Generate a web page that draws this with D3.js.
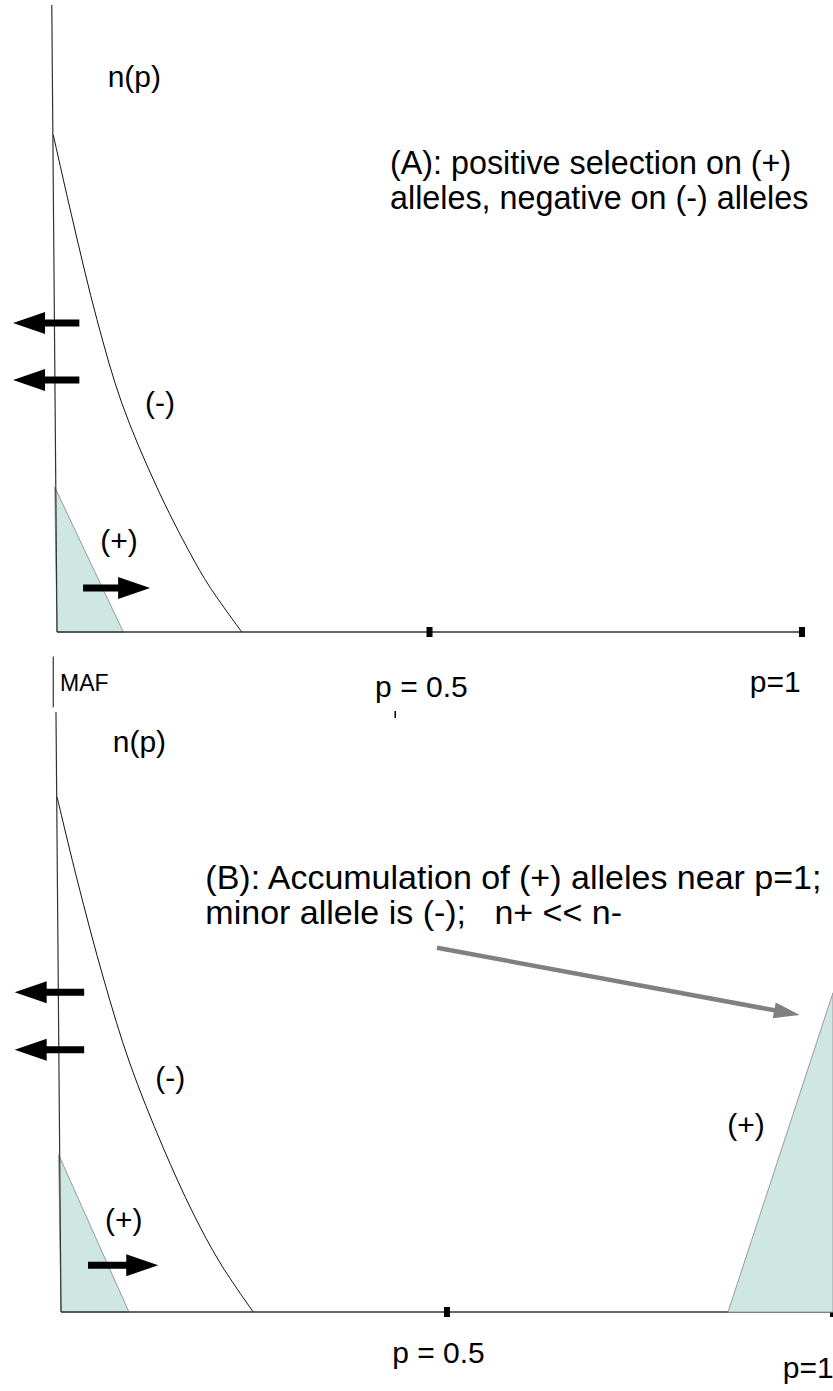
<!DOCTYPE html>
<html>
<head>
<meta charset="utf-8">
<script src="https://cdn.jsdelivr.net/npm/d3@7"></script>
<style>
  body { margin: 0; background: #fff; }
  text { font-family: "Liberation Sans", Arial, sans-serif; fill: #000; }
</style>
</head>
<body>
<svg id="chart"></svg>
<script>
// p = allele frequency, n = relative number of alleles n(p)
const negCurveA = [[-0.005, 0.793], [0.021, 0.657], [0.0537, 0.498], [0.087, 0.365],
  [0.134, 0.231], [0.1785, 0.126], [0.205, 0.072], [0.248, 0]];
const posAreaA = [[-0.003, 0.231], [0, 0], [0.089, 0]];
const negCurveB = [[-0.005, 0.858], [0.021, 0.72], [0.0557, 0.553], [0.089, 0.415],
  [0.132, 0.275], [0.171, 0.165], [0.206, 0.082], [0.249, 0]];
const posAreaB = [[-0.003, 0.262], [0, 0], [0.088, 0]];
const posAreaBHigh = [[0.864, 0], [1.0, 0.532], [1.0, 0]];
const tickValues = [0.5, 1];

// arrows: [fromP, fromN, toP, toN]
const arrowsA = [[0.030, 0.493, -0.059, 0.493], [0.030, 0.402, -0.059, 0.402], [0.035, 0.070, 0.125, 0.070]];
const arrowsB = [[0.030, 0.533, -0.060, 0.533], [0.030, 0.437, -0.060, 0.437], [0.035, 0.078, 0.126, 0.078]];
const pointerB = [0.487, 0.607, 0.957, 0.495];

const labelsA = [
  { text: "n(p)", p: 0.068, n: 0.869, size: 30 },
  { text: "(A): positive selection on (+)", p: 0.447, n: 0.730, size: 32.3 },
  { text: "alleles, negative on (-) alleles", p: 0.447, n: 0.674, size: 32.3 },
  { text: "(-)", p: 0.118, n: 0.349, size: 30 },
  { text: "(+)", p: 0.058, n: 0.129, size: 30 },
  { text: "p = 0.5", p: 0.427, n: -0.104, size: 30 },
  { text: "p=1", p: 0.930, n: -0.096, size: 30 },
  { text: "MAF", p: 0.004, n: -0.094, size: 23 }
];
const labelsB = [
  { text: "n(p)", p: 0.067, n: 0.933, size: 30 },
  { text: "(B): Accumulation of (+) alleles near p=1;", p: 0.187, n: 0.705, size: 34 },
  { text: "minor allele is (-);   n+ << n-", p: 0.187, n: 0.646, size: 34 },
  { text: "(-)", p: 0.122, n: 0.373, size: 30 },
  { text: "(+)", p: 0.863, n: 0.295, size: 30 },
  { text: "(+)", p: 0.057, n: 0.137, size: 30 },
  { text: "p = 0.5", p: 0.429, n: -0.085, size: 30 },
  { text: "p=1", p: 0.935, n: -0.110, size: 30 }
];

const W = 833, H = 1391;
const svg = d3.select("#chart").attr("width", W).attr("height", H);

const blockArrow = (x1, y1, x2, y2, shaft, headW, headL) => {
  const len = Math.hypot(x2 - x1, y2 - y1);
  const ux = (x2 - x1) / len, uy = (y2 - y1) / len;
  const nx = -uy, ny = ux;
  const bx = x2 - ux * headL, by = y2 - uy * headL;
  const pts = [
    [x1 + nx * shaft / 2, y1 + ny * shaft / 2],
    [bx + nx * shaft / 2, by + ny * shaft / 2],
    [bx + nx * headW / 2, by + ny * headW / 2],
    [x2, y2],
    [bx - nx * headW / 2, by - ny * headW / 2],
    [bx - nx * shaft / 2, by - ny * shaft / 2],
    [x1 - nx * shaft / 2, y1 - ny * shaft / 2]
  ];
  return "M" + pts.map(p => p.join(",")).join("L") + "Z";
};

const drawPanel = (cfg) => {
  const x = d3.scaleLinear().domain([0, 1]).range(cfg.xRange);
  const y = d3.scaleLinear().domain([0, 1]).range(cfg.yRange);
  const g = svg.append("g").attr("class", cfg.name);

  // shaded (+) areas
  cfg.areas.forEach(a => {
    g.append("path")
      .attr("d", d3.line().x(d => x(d[0])).y(d => y(d[1]))(a) + "Z")
      .attr("fill", "#cfe7e3")
      .attr("stroke", "#9a9a9a")
      .attr("stroke-width", 1);
  });

  // vertical axis (slightly leaning, as drawn)
  g.append("line")
    .attr("x1", x(cfg.axisTopP)).attr("y1", y(1))
    .attr("x2", x(0)).attr("y2", y(0))
    .attr("stroke", "#333").attr("stroke-width", 1.2);

  // horizontal axis
  g.append("line")
    .attr("x1", x(0)).attr("y1", y(0))
    .attr("x2", x(1)).attr("y2", y(0))
    .attr("stroke", "#333").attr("stroke-width", 1.5);

  g.selectAll(".tick")
    .data(tickValues)
    .enter()
    .append("rect")
    .attr("x", d => x(d) - 3)
    .attr("y", y(0) - 5)
    .attr("width", 6)
    .attr("height", 10)
    .attr("fill", "#000");

  // (-) curve
  g.append("path")
    .attr("d", d3.line().curve(d3.curveCatmullRom.alpha(0.5)).x(d => x(d[0])).y(d => y(d[1]))(cfg.curve))
    .attr("fill", "none")
    .attr("stroke", "#111")
    .attr("stroke-width", 1);

  if (cfg.highArea) {
    g.append("path")
      .attr("d", d3.line().x(d => x(d[0])).y(d => y(d[1]))(cfg.highArea) + "Z")
      .attr("fill", "#cfe7e3")
      .attr("stroke", "#9a9a9a")
      .attr("stroke-width", 1);
  }

  g.selectAll(".arrow")
    .data(cfg.arrows)
    .enter()
    .append("path")
    .attr("d", d => blockArrow(x(d[0]), y(d[1]), x(d[2]), y(d[3]), 7, 22, 32))
    .attr("fill", "#000");

  if (cfg.pointer) {
    const d = cfg.pointer;
    g.append("path")
      .attr("d", blockArrow(x(d[0]), y(d[1]), x(d[2]), y(d[3]), 4.5, 16, 26))
      .attr("fill", "#808080");
  }

  g.selectAll(".label")
    .data(cfg.labels)
    .enter()
    .append("text")
    .attr("x", d => x(d.p))
    .attr("y", d => y(d.n))
    .style("white-space", "pre")
    .attr("font-size", d => d.size)
    .text(d => d.text);

  return { x, y, g };
};

const a = drawPanel({
  name: "panel-a", xRange: [57, 802], yRange: [632, 5], axisTopP: -0.007,
  areas: [posAreaA], curve: negCurveA, arrows: arrowsA, labels: labelsA
});
const b = drawPanel({
  name: "panel-b", xRange: [61, 833], yRange: [1312, 712], axisTopP: -0.0065,
  areas: [posAreaB], highArea: posAreaBHigh, curve: negCurveB, arrows: arrowsB,
  pointer: pointerB, labels: labelsB
});

// small marks between the panels
a.g.append("line")
  .attr("x1", a.x(-0.005)).attr("y1", a.y(-0.039))
  .attr("x2", a.x(-0.005)).attr("y2", a.y(-0.12))
  .attr("stroke", "#333").attr("stroke-width", 1.2);
a.g.append("line")
  .attr("x1", a.x(0.454)).attr("y1", a.y(-0.126))
  .attr("x2", a.x(0.454)).attr("y2", a.y(-0.137))
  .attr("stroke", "#000").attr("stroke-width", 1.5);
</script>
</body>
</html>
